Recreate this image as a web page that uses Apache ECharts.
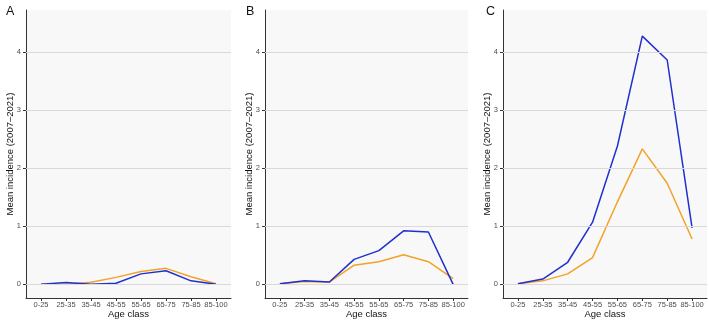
<!DOCTYPE html>
<html>
<head>
<meta charset="utf-8">
<script src="https://cdn.jsdelivr.net/npm/echarts@6/dist/echarts.min.js"></script>
<style>
  html, body { margin: 0; padding: 0; background: #fff; }
  #chart { width: 709px; height: 321px; }
</style>
</head>
<body>
<div id="chart"></div>
<script>
// age classes on the x axis
const ageClasses = ['0-25', '25-35', '35-45', '45-55', '55-65', '65-75', '75-85', '85-100'];
const yTicks = [0, 1, 2, 3, 4];
const panels = ['A', 'B', 'C'];

// mean incidence per panel, blue and orange series
const blueA = [0, 0.03, 0.0, 0.02, 0.18, 0.235, 0.06, 0];
const orangeA = [0, 0.0, 0.035, 0.12, 0.22, 0.275, 0.13, 0.01];
const blueB = [0.01, 0.06, 0.04, 0.43, 0.58, 0.92, 0.90, 0.0];
const orangeB = [0.01, 0.05, 0.04, 0.33, 0.39, 0.51, 0.39, 0.10];
const blueC = [0.01, 0.09, 0.38, 1.07, 2.38, 4.27, 3.86, 0.97];
const orangeC = [0.01, 0.06, 0.18, 0.46, 1.42, 2.33, 1.74, 0.78];

const blues = [blueA, blueB, blueC];
const oranges = [orangeA, orangeB, orangeC];

const BLUE = '#1f30cf';
const ORANGE = '#f2a327';
const FONT = 'Liberation Sans, Arial, sans-serif';

const grids = [
  { left: 26, width: 205, top: 10, height: 288 },
  { left: 265, width: 203, top: 10, height: 288 },
  { left: 503, width: 204, top: 10, height: 288 }
];

const chart = echarts.init(document.getElementById('chart'));

const toPairs = arr => arr.map((v, i) => [i, v]);

let option = {
  animation: false,
  textStyle: { fontFamily: FONT },
  title: panels.map((p, i) => ({
    text: p,
    left: [1, 241, 481][i],
    top: 0,
    textStyle: { fontSize: 12.5, fontWeight: 'normal', color: '#111', fontFamily: FONT }
  })),
  grid: grids.map(g => ({
    left: g.left, width: g.width, top: g.top, height: g.height,
    outerBoundsMode: 'none',
    containLabel: false,
    show: true, backgroundColor: '#f8f8f8', borderWidth: 0
  })),
  xAxis: grids.map((g, i) => ({
    type: 'value',
    gridIndex: i,
    min: -0.6,
    max: 7.6,
    name: 'Age class',
    nameLocation: 'middle',
    nameGap: 11,
    nameMoveOverlap: false,
    nameTextStyle: { fontSize: 9.5, color: '#111' },
    axisLine: { show: true, onZero: false, lineStyle: { color: '#333', width: 1 } },
    axisTick: { show: true, length: 3, customValues: ageClasses.map((a, k) => k), lineStyle: { color: '#333' } },
    axisLabel: {
      customValues: ageClasses.map((a, k) => k),
      formatter: v => ageClasses[v],
      fontSize: 7.5, color: '#4d4d4d', margin: 3
    },
    splitLine: { show: false }
  })),
  yAxis: grids.map((g, i) => ({
    type: 'value',
    gridIndex: i,
    min: -0.235,
    max: 4.72,
    name: 'Mean incidence (2007\u20132021)',
    nameLocation: 'middle',
    nameGap: 11,
    nameMoveOverlap: false,
    nameTextStyle: { fontSize: 9.5, color: '#111' },
    axisLine: { show: true, onZero: false, lineStyle: { color: '#333', width: 1 } },
    axisTick: { show: true, length: 3, customValues: yTicks, lineStyle: { color: '#333' } },
    axisLabel: { customValues: yTicks, fontSize: 7.5, color: '#4d4d4d', margin: 5 },
    splitLine: { show: false }
  })),
  series: []
};

for (let i = 0; i < 3; i++) {
  // grid lines at the y ticks
  option.series.push({
    type: 'line',
    xAxisIndex: i, yAxisIndex: i,
    data: [],
    silent: true,
    markLine: {
      silent: true,
      symbol: 'none',
      label: { show: false },
      lineStyle: { color: '#d9d9d9', width: 1, type: 'solid' },
      data: yTicks.map(t => ({ yAxis: t }))
    }
  });
  option.series.push({
    type: 'line',
    xAxisIndex: i, yAxisIndex: i,
    data: toPairs(oranges[i]),
    showSymbol: false,
    lineStyle: { color: ORANGE, width: 1.5 },
    itemStyle: { color: ORANGE }
  });
  option.series.push({
    type: 'line',
    xAxisIndex: i, yAxisIndex: i,
    data: toPairs(blues[i]),
    showSymbol: false,
    lineStyle: { color: BLUE, width: 1.5 },
    itemStyle: { color: BLUE }
  });
}

chart.setOption(option);
</script>
</body>
</html>
